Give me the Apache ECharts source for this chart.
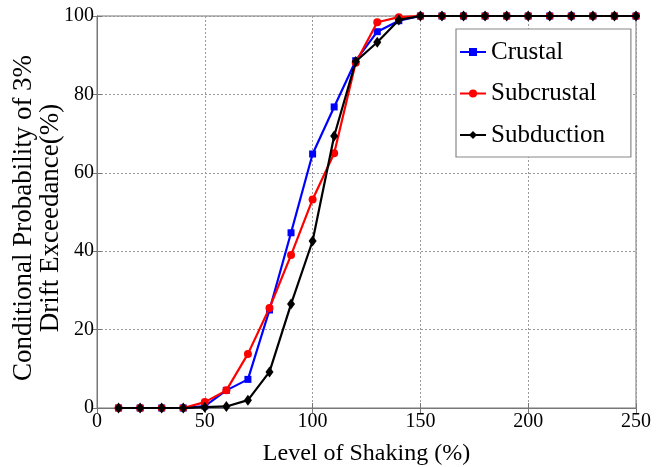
<!DOCTYPE html>
<html><head><meta charset="utf-8">
<script src="https://cdn.jsdelivr.net/npm/echarts@6/dist/echarts.min.js"></script>
<style>html,body{margin:0;padding:0;background:#fff}#c{width:656px;height:467px}</style>
</head><body><div id="c"></div>
<script>
const levels = [10,20,30,40,50,60,70,80,90,100,110,120,130,140,150,160,170,180,190,200,210,220,230,240,250];
const crustal = [0,0,0,0,0.5,4.5,7.3,25,44.7,64.8,76.8,88.6,96,98.8,100,100,100,100,100,100,100,100,100,100,100];
const subcrustal = [0,0,0,0,1.5,4.5,13.8,25.5,39,53.2,65,88.1,98.4,99.7,100,100,100,100,100,100,100,100,100,100,100];
const subduction = [0,0,0,0,0.2,0.4,2,9.2,26.5,42.6,69.4,88.4,93.3,99,100,100,100,100,100,100,100,100,100,100,100];
const xTicks = [0,50,100,150,200,250];
const yTicks = [0,20,40,60,80,100];

const font = '"Liberation Serif","Times New Roman",serif';
const pair = a => levels.map((x,i)=>[x,a[i]]);
const chart = echarts.init(document.getElementById('c'));
const gridLine = {show:true, lineStyle:{color:'#9a9a9a', type:[2,2], width:1}};
chart.setOption({
  animation:false,
  grid:{left:97,right:20,top:16,bottom:59,show:true,borderColor:'#777',borderWidth:1,
        containLabel:false, outerBoundsMode:'none'},
  legend:{
    orient:'vertical', left:456, top:29,
    backgroundColor:'#fff', borderColor:'#888', borderWidth:1.2, borderRadius:0,
    padding:[10,26,9,3], itemGap:15.5, itemWidth:26, itemHeight:10,
    textStyle:{fontFamily:font, fontSize:25, color:'#000', lineHeight:26},
    data:['Crustal','Subcrustal','Subduction']
  },
  xAxis:[{
    type:'value', min:0, max:250, interval:50,
    name:'Level of Shaking (%)', nameLocation:'middle', nameGap:34, nameMoveOverlap:false,
    nameTextStyle:{fontFamily:font, fontSize:24, color:'#000'},
    axisLine:{show:true, onZero:false, lineStyle:{color:'#777'}},
    axisTick:{show:true, inside:true, length:5, lineStyle:{color:'#777'}},
    axisLabel:{fontFamily:font, fontSize:20, color:'#000', margin:4,
      formatter: v => xTicks.includes(v) ? String(v) : ''},
    splitLine:gridLine
  },{
    type:'value', position:'top', min:0, max:250, interval:50,
    axisLine:{show:true, lineStyle:{color:'#777'}},
    axisTick:{show:true, inside:true, length:5, lineStyle:{color:'#777'}},
    axisLabel:{show:false}, splitLine:{show:false}
  }],
  yAxis:[{
    type:'value', min:0, max:100, interval:20,
    name:'Conditional Probability of 3%\nDrift Exceedance(%)', nameLocation:'middle', nameGap:33, nameRotate:90,
    nameMoveOverlap:false,
    nameTextStyle:{fontFamily:font, fontSize:27, color:'#000', lineHeight:27, padding:[0,12,0,0]},
    axisLine:{show:true, lineStyle:{color:'#777'}},
    axisTick:{show:true, inside:true, length:5, lineStyle:{color:'#777'}},
    axisLabel:{fontFamily:font, fontSize:20, color:'#000', margin:3,
      formatter: v => yTicks.includes(v) ? String(v) : ''},
    splitLine:gridLine
  },{
    type:'value', position:'right', min:0, max:100, interval:20,
    axisLine:{show:true, lineStyle:{color:'#777'}},
    axisTick:{show:true, inside:true, length:5, lineStyle:{color:'#777'}},
    axisLabel:{show:false}, splitLine:{show:false}
  }],
  series:[
    {name:'Crustal', type:'line', data:pair(crustal), symbol:'rect', symbolSize:7,
      itemStyle:{color:'#0000ff'}, lineStyle:{color:'#0000ff', width:2.2}, z:3},
    {name:'Subcrustal', type:'line', data:pair(subcrustal), symbol:'circle', symbolSize:8,
      itemStyle:{color:'#ff0000'}, lineStyle:{color:'#ff0000', width:2.2}, z:4},
    {name:'Subduction', type:'line', data:pair(subduction), symbol:'diamond', symbolSize:[8,11],
      itemStyle:{color:'#000'}, lineStyle:{color:'#000', width:2.2}, z:5}
  ]
});
</script></body></html>
